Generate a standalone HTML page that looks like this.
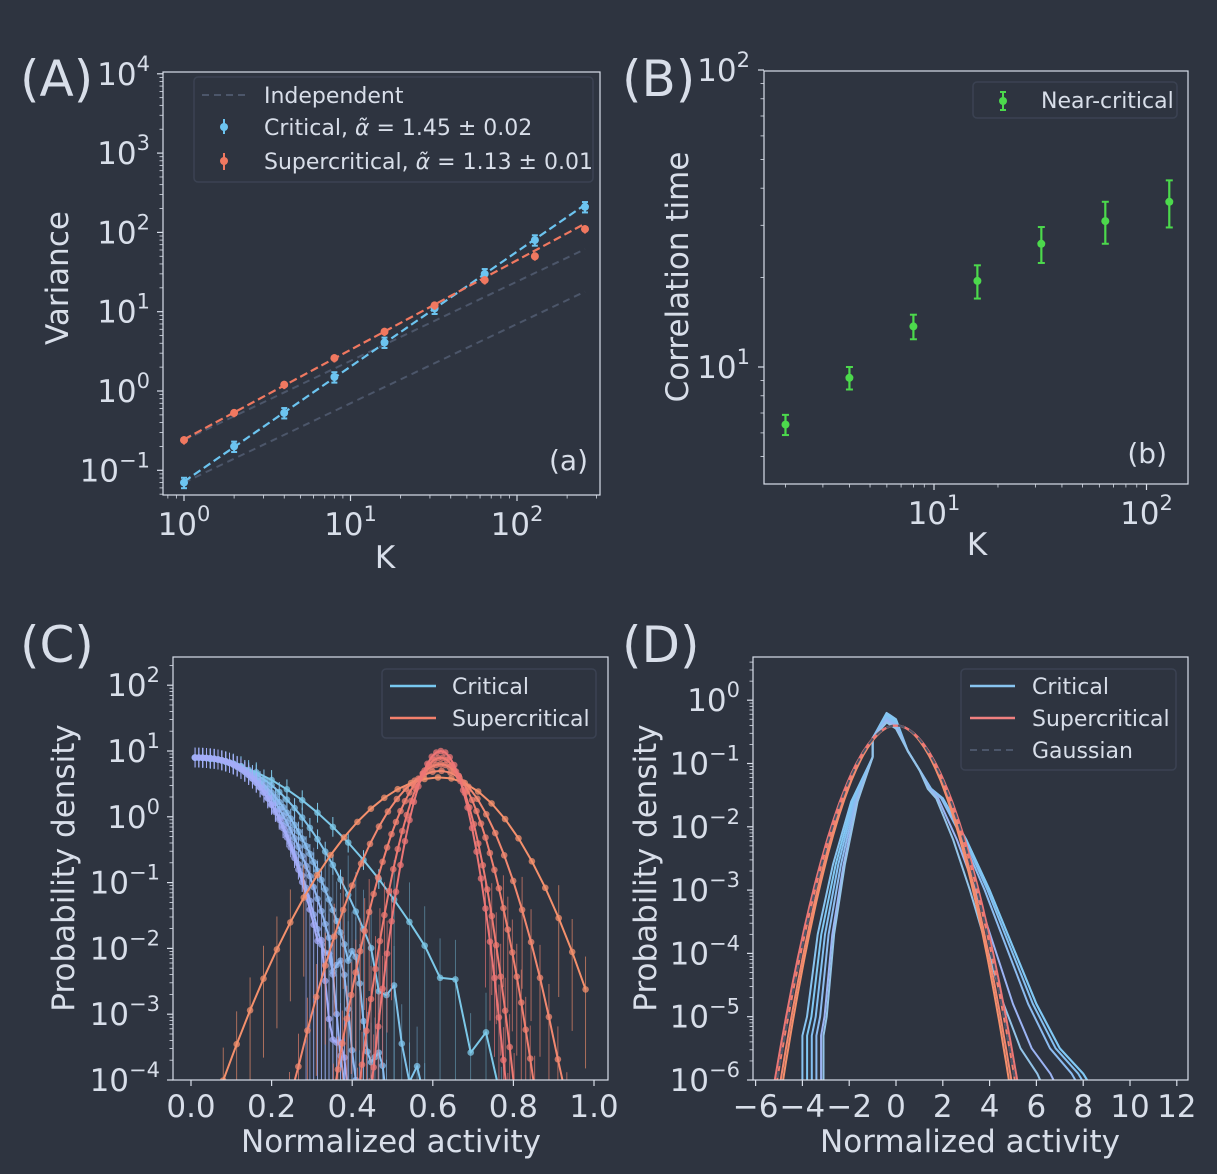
<!DOCTYPE html>
<html><head><meta charset="utf-8"><style>
html,body{margin:0;padding:0;background:#2e3440;overflow:hidden;width:1217px;height:1174px;}
svg{display:block;font-family:"DejaVu Sans","Liberation Sans",sans-serif;}
</style></head><body>
<svg id="s" width="1217" height="1174" xmlns="http://www.w3.org/2000/svg"></svg>
<script>
const S=document.getElementById('s');
let h='<rect width="1217" height="1174" fill="#2e3440"/>';
const TC='#d8dee9';
function L(x1,y1,x2,y2,c,w,extra){h+=`<line x1="${x1}" y1="${y1}" x2="${x2}" y2="${y2}" stroke="${c}" stroke-width="${w||1}" ${extra||''}/>`;}
function P(pts,c,w,extra){h+=`<polyline fill="none" points="${pts.map(p=>p[0].toFixed(1)+','+p[1].toFixed(1)).join(' ')}" stroke="${c}" stroke-width="${w||1.5}" stroke-linejoin="round" ${extra||''}/>`;}
function C(x,y,r,c,op){h+=`<circle cx="${x.toFixed(1)}" cy="${y.toFixed(1)}" r="${r}" fill="${c}" ${op?'fill-opacity="'+op+'"':''}/>`;}
function T(x,y,s,size,anchor,extra){h+=`<text x="${x}" y="${y}" fill="${TC}" font-size="${size}" text-anchor="${anchor||'start'}" ${extra||''}>${s}</text>`;}
function pow(x,y,e,anchor){
  const es=String(e).replace('-','−');
  h+=`<text x="${x}" y="${y}" fill="${TC}" font-size="31" text-anchor="${anchor}">10<tspan font-size="21" dy="-14">${es}</tspan></text>`;
}
function frame(l,t,r,b){h+=`<rect x="${l}" y="${t}" width="${r-l}" height="${b-t}" fill="none" stroke="${TC}" stroke-width="1.2"/>`;}
function clip(id,l,t,r,b){h+=`<clipPath id="${id}"><rect x="${l}" y="${t}" width="${r-l}" height="${b-t}"/></clipPath>`;}
// ============ Panel A
{
const l=163,t=72,r=600,b=495;
const X=k=>184+166.5*Math.log10(k), Y=v=>391-79.3*Math.log10(v);
clip('ca',l,t,r,b);
h+='<g clip-path="url(#ca)">';
L(X(1),Y(0.07),X(256),Y(0.07*256),'#4c566a',2,'stroke-dasharray="7,5"');
L(X(1),Y(0.24),X(256),Y(0.24*256),'#4c566a',2,'stroke-dasharray="7,5"');
const Ks=[1,2,4,8,16,32,64,128,256];
const cr=[0.07,0.2,0.53,1.5,4.1,11,30,80,210], sc=[0.24,0.53,1.2,2.6,5.6,12,25,50,110];
L(X(1),Y(0.072),X(256),Y(0.072*Math.pow(256,1.45)),'#6cc4f0',2.2,'stroke-dasharray="8,4"');
L(X(1),Y(0.245),X(256),Y(0.245*Math.pow(256,1.13)),'#f07860',2.2,'stroke-dasharray="8,4"');
Ks.forEach((k,i)=>{
 const x=X(k);
 L(x,Y(cr[i]*0.85),x,Y(cr[i]*1.15),'#6cc4f0',2);L(x-3,Y(cr[i]*0.85),x+3,Y(cr[i]*0.85),'#6cc4f0',2);L(x-3,Y(cr[i]*1.15),x+3,Y(cr[i]*1.15),'#6cc4f0',2);
 C(x,Y(cr[i]),4,'#6cc4f0');
 L(x,Y(sc[i]*0.88),x,Y(sc[i]*1.12),'#f07860',2);
 C(x,Y(sc[i]),4,'#f07860');
});
h+='</g>';
frame(l,t,r,b);
for(let e=-1;e<=4;e++){const y=Y(Math.pow(10,e));L(l,y,l-6,y,TC,1.2);pow(150,y+11,e,'end');}
for(let e=-2;e<=4;e++)for(let m=2;m<10;m++){const y=Y(m*Math.pow(10,e));if(y>t&&y<b)L(l,y,l-3.5,y,TC,0.8);}
for(let e=0;e<=2;e++){const x=X(Math.pow(10,e));L(x,b,x,b+6,TC,1.2);pow(x,b+40,e,'middle');}
for(let e=-1;e<=2;e++)for(let m=2;m<10;m++){const x=X(m*Math.pow(10,e));if(x>l&&x<r)L(x,b,x,b+3.5,TC,0.8);}
T(385,568,'K',31,'middle');
T(68,278,'Variance',31,'middle','transform="rotate(-90 68 278)"');
T(588,470,'(a)',28,'end');
T(20,96,'(A)',50,'start');
h+=`<rect x="194" y="77" width="399" height="105" rx="4" fill="#2e3440" stroke="#3b4252" stroke-width="1.5"/>`;
L(202,95,247,95,'#4c566a',2,'stroke-dasharray="7,5"');
T(264,103,'Independent',22);
L(224,119,224,134,'#6cc4f0',2);C(224,127,4,'#6cc4f0');
T(264,135,'Critical, <tspan font-style="italic">α̃</tspan> = 1.45 ± 0.02',22);
L(224,153,224,170,'#f07860',2);C(224,161,4,'#f07860');
T(264,169,'Supercritical, <tspan font-style="italic">α̃</tspan> = 1.13 ± 0.01',22);
}
// ============ Panel B
{
const l=764,t=71,r=1188,b=484;
const X=k=>934+212.5*Math.log10(k/10), Y=v=>367-297*(Math.log10(v)-1);
frame(l,t,r,b);
const Ks=[2,4,8,16,32,64,128],v=[6.4,9.2,13.7,19.5,26,31,36],er=[0.5,0.8,1.3,2.5,3.6,5,6.5];
Ks.forEach((k,i)=>{const x=X(k);L(x,Y(v[i]-er[i]),x,Y(v[i]+er[i]),'#4cd94c',2.2);
 L(x-3.5,Y(v[i]-er[i]),x+3.5,Y(v[i]-er[i]),'#4cd94c',2);L(x-3.5,Y(v[i]+er[i]),x+3.5,Y(v[i]+er[i]),'#4cd94c',2);C(x,Y(v[i]),4,'#4cd94c');});
[1,2].forEach(e=>{const y=Y(Math.pow(10,e));L(l,y,l-6,y,TC,1.2);pow(750,y+11,e,'end');});
for(let e=0;e<=1;e++)for(let m=2;m<10;m++){const y=Y(m*Math.pow(10,e));if(y>t&&y<b)L(l,y,l-3.5,y,TC,0.8);}
[1,2].forEach(e=>{const x=X(Math.pow(10,e));L(x,b,x,b+6,TC,1.2);pow(x,b+40,e,'middle');});
for(let e=0;e<=2;e++)for(let m=2;m<10;m++){const x=X(m*Math.pow(10,e));if(x>l&&x<r)L(x,b,x,b+3.5,TC,0.8);}
T(977,555,'K',31,'middle');
T(688,277,'Correlation time',31,'middle','transform="rotate(-90 688 277)"');
T(1167,463,'(b)',28,'end');
T(622,96,'(B)',50,'start');
h+=`<rect x="973" y="82" width="204" height="36" rx="4" fill="#2e3440" stroke="#3b4252" stroke-width="1.5"/>`;
L(1003,92,1003,110,'#4cd94c',2);L(1000,92,1006,92,'#4cd94c',2);L(1000,110,1006,110,'#4cd94c',2);C(1003,101,4,'#4cd94c');
T(1041,108,'Near-critical',22);
}
// ============ Panel C
{
const l=173,t=657,r=608,b=1080;
const X=x=>191+403*x, Y=lv=>1080-65.8*(lv+4);
clip('cc',l,t,r,b);
h+='<g clip-path="url(#cc)">';
const crit=[[8.5,2,0.77,'#7cc8e8'],[20,2.4,0.62,'#80c4ec'],[35,2.6,0.52,'#88bef0'],[55,2.8,0.46,'#90b8f2'],[75,2.9,0.42,'#98b2f4'],[90,3,0.4,'#a4acf8']];
crit.forEach((c,ci)=>{
 const pts=[];const step=ci<1?0.038:(ci<2?0.019:0.0095);
 for(let x=0.01;x<=c[2]+0.001;x+=step){
   let lv=0.9-c[0]*Math.pow(x,c[1]);
   if(lv<-2) lv+= (Math.sin(x*97+ci*3)*0.4);
   pts.push([X(x),Y(Math.max(lv,-4.3))]);
   if(lv<-1.0){L(X(x),Y(lv+0.6),X(x),b,c[3],0.8,'stroke-opacity="0.55"');}
   else L(X(x),Y(lv-0.15),X(x),Y(lv+0.15),c[3],1);
 }
 P(pts,c[3],2);
 pts.forEach(p=>C(p[0],p[1],3.3,c[3],0.75));
});
const sup=[[0.6,15.8,25,'#f4906c',0.08,0.99],[0.7,36,52,'#f28870',0.2,0.95],[0.8,71,91,'#f08070',0.32,0.9],[0.9,122,151,'#ee7a72',0.38,0.82],[1.0,173,195,'#ec7676',0.42,0.79]];
sup.forEach((s,si)=>{
 const pts=[];const step=si==0?0.0333:(si==1?0.0222:0.0111);
 for(let x=s[4];x<=s[5];x+=step){
   const d=x-0.62;let lv=s[0]-(d<0?s[1]:s[2])*d*d;
   pts.push([X(x),Y(Math.max(lv,-4.3))]);
   if(lv<-1.2) L(X(x),Y(lv+0.5),X(x),Math.min(b,Y(lv-1.2)),s[3],0.9,'stroke-opacity="0.7"');
 }
 P(pts,s[3],2);
 pts.forEach(p=>C(p[0],p[1],3.3,s[3],0.75));
});
h+='</g>';
frame(l,t,r,b);
for(let e=-4;e<=2;e++){const y=Y(e);L(l,y,l-6,y,TC,1.2);pow(160,y+11,e,'end');}
for(let e=-5;e<=2;e++)for(let m=2;m<10;m++){const y=Y(e+Math.log10(m));if(y>t&&y<b)L(l,y,l-3.5,y,TC,0.8);}
for(let i=0;i<=5;i++){const x=X(i*0.2);L(x,b,x,b+6,TC,1.2);T(x,b+37,(i*0.2).toFixed(1),31,'middle');}
T(391,1152,'Normalized activity',31,'middle');
T(74,868,'Probability density',31,'middle','transform="rotate(-90 74 868)"');
T(20,662,'(C)',50,'start');
h+=`<rect x="382" y="669" width="214" height="69" rx="4" fill="#2e3440" stroke="#3b4252" stroke-width="1.5"/>`;
L(390,686,436,686,'#78c8f0',2.5);T(452,694,'Critical',22);
L(390,718,436,718,'#f4806c',2.5);T(452,726,'Supercritical',22);
}
// ============ Panel D
{
const l=753,t=657,r=1188,b=1080;
const X=x=>896+23.4*x, Y=lv=>1080-63.3*(lv+6);
clip('cd',l,t,r,b);
h+='<g clip-path="url(#cd)">';
const tmpl=[[-1,-0.6],[-0.4,-0.2],[0,-0.3],[0.5,-0.8],[1,-1.1],[1.5,-1.4],[2,-1.55],[3,-2.2],[4,-3.0],[5,-3.9],[6,-4.8],[7,-5.5],[8,-5.9],[8.5,-6.2]];
const crits=[[-4.0,1.0,'#88c4f0'],[-3.8,1.0,'#80c8f4'],[-3.6,0.97,'#84c0f2'],[-3.4,0.93,'#8cbcf0'],[-3.2,0.8,'#9cb4f4'],[-3.1,0.72,'#94c4e8']];
crits.forEach((c,ci)=>{
 const pts=[[X(c[0]),Y(-6.3)],[X(c[0]),Y(-5.3)]];
 const lx=c[0];
 [[0.15,-5],[0.5,-3.7],[1,-2.6],[1.6,-1.6],[2.3,-0.9]].forEach(q=>pts.push([X(lx+q[0]*(-1-lx)/2.3),Y(q[1])]));
 tmpl.forEach(p=>{let x=p[0];if(x>1)x=1+(x-1)*c[1];pts.push([X(x),Y(p[1]+(p[0]>-0.5&&p[0]<0.2?ci*-0.03:0))]);});
 P(pts,c[2],2);
});
[0.95,0.97,1.0,1.02].forEach((s,i)=>{
 const pts=[];for(let x=-6;x<=6;x+=0.1){const lv=-0.399-0.2171*(x/s)*(x/s);pts.push([X(x),Y(lv)]);}
 P(pts,['#f4906c','#f28870','#f08070','#ec7676'][i],2);
});
{const pts=[];for(let x=-6;x<=6;x+=0.1){pts.push([X(x),Y(-0.399-0.2171*x*x)]);}P(pts,'#4c566a',2,'stroke-dasharray="7,5"');}
h+='</g>';
frame(l,t,r,b);
for(let e=-6;e<=0;e++){const y=Y(e);L(l,y,l-6,y,TC,1.2);pow(740,y+11,e,'end');}
for(let e=-7;e<=0;e++)for(let m=2;m<10;m++){const y=Y(e+Math.log10(m));if(y>t&&y<b)L(l,y,l-3.5,y,TC,0.8);}
for(let v=-6;v<=12;v+=2){const x=X(v);L(x,b,x,b+6,TC,1.2);T(x,b+37,String(v).replace('-','−'),31,'middle');}
T(970,1152,'Normalized activity',31,'middle');
T(656,868,'Probability density',31,'middle','transform="rotate(-90 656 868)"');
T(622,662,'(D)',50,'start');
h+=`<rect x="961" y="669" width="215" height="101" rx="4" fill="#2e3440" stroke="#3b4252" stroke-width="1.5"/>`;
L(970,686,1015,686,'#88c4f0',2.5);T(1032,694,'Critical',22);
L(970,718,1015,718,'#f08080',2.5);T(1032,726,'Supercritical',22);
L(970,750,1015,750,'#4c566a',2,'stroke-dasharray="7,5"');T(1032,758,'Gaussian',22);
}
S.innerHTML=h;
</script>
</body></html>
